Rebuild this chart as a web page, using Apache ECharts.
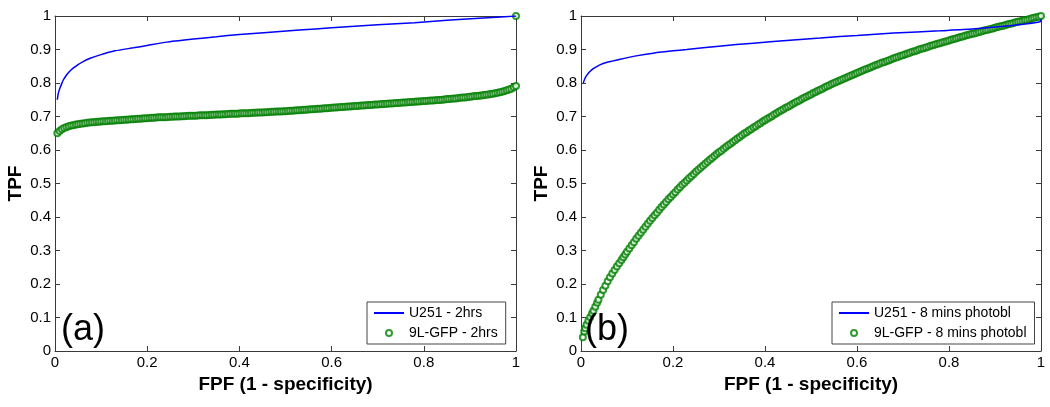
<!DOCTYPE html>
<html>
<head>
<meta charset="utf-8">
<script src="https://cdn.jsdelivr.net/npm/echarts@6/dist/echarts.min.js"></script>
<style>
html,body{margin:0;padding:0;background:#fff;}
#chart{width:1050px;height:407px;}
</style>
</head>
<body>
<div id="chart"></div>
<script>
// ---------- Panel (a) ----------
const fpfA_U251 = [0.005,0.007,0.009,0.011,0.014,0.018,0.025,0.032,0.040,0.050,0.061,0.075,0.098,0.13,0.17,0.20,0.242,0.30,0.35,0.40,0.46,0.53,0.60,0.70,0.78,0.85,0.92,1.00];
const tpfA_U251 = [0.750,0.768,0.778,0.786,0.796,0.809,0.824,0.835,0.845,0.855,0.864,0.873,0.884,0.896,0.905,0.912,0.922,0.931,0.938,0.945,0.951,0.958,0.965,0.974,0.980,0.987,0.993,1.000];

const fpfA_9L = [0.005,0.010,0.015,0.020,0.025,0.030,0.035,0.040,0.045,0.050,0.055,0.060,0.065,0.070,0.075,0.080,0.085,0.090,0.095,0.100,
0.105,0.110,0.115,0.120,0.125,0.130,0.135,0.140,0.145,0.150,0.155,0.160,0.165,0.170,0.175,0.180,0.185,0.190,0.195,0.200,
0.205,0.210,0.215,0.220,0.225,0.230,0.235,0.240,0.245,0.250,0.255,0.260,0.265,0.270,0.275,0.280,0.285,0.290,0.295,0.300,
0.305,0.310,0.315,0.320,0.325,0.330,0.335,0.340,0.345,0.350,0.355,0.360,0.365,0.370,0.375,0.380,0.385,0.390,0.395,0.400,
0.405,0.410,0.415,0.420,0.425,0.430,0.435,0.440,0.445,0.450,0.455,0.460,0.465,0.470,0.475,0.480,0.485,0.490,0.495,0.500,
0.505,0.510,0.515,0.520,0.525,0.530,0.535,0.540,0.545,0.550,0.555,0.560,0.565,0.570,0.575,0.580,0.585,0.590,0.595,0.600,
0.605,0.610,0.615,0.620,0.625,0.630,0.635,0.640,0.645,0.650,0.655,0.660,0.665,0.670,0.675,0.680,0.685,0.690,0.695,0.700,
0.705,0.710,0.715,0.720,0.725,0.730,0.735,0.740,0.745,0.750,0.755,0.760,0.765,0.770,0.775,0.780,0.785,0.790,0.795,0.800,
0.805,0.810,0.815,0.820,0.825,0.830,0.835,0.840,0.845,0.850,0.855,0.860,0.865,0.870,0.875,0.880,0.885,0.890,0.895,0.900,
0.905,0.910,0.915,0.920,0.925,0.930,0.935,0.940,0.945,0.950,0.955,0.960,0.965,0.970,0.975,0.980,0.985,0.990,0.995,1.000,1.000];
const tpfA_9L = [0.650,0.657,0.662,0.666,0.669,0.671,0.673,0.674,0.676,0.677,0.678,0.679,0.680,0.681,0.682,0.683,0.683,0.684,0.684,0.685,
0.6855,0.686,0.6865,0.687,0.6875,0.688,0.6885,0.689,0.6895,0.690,0.6905,0.691,0.6915,0.692,0.6925,0.693,0.6935,0.694,0.6945,0.695,
0.6955,0.696,0.6965,0.697,0.6975,0.698,0.698,0.698,0.6985,0.699,0.6995,0.700,0.700,0.700,0.7005,0.701,0.7015,0.702,0.702,0.702,
0.7025,0.703,0.7035,0.704,0.704,0.704,0.7045,0.705,0.7055,0.706,0.706,0.706,0.7065,0.707,0.7075,0.708,0.708,0.708,0.7085,0.709,
0.7095,0.710,0.710,0.710,0.7105,0.711,0.7115,0.712,0.712,0.712,0.7125,0.713,0.7135,0.714,0.7145,0.715,0.715,0.715,0.7155,0.716,
0.7165,0.717,0.7175,0.718,0.7185,0.719,0.7195,0.720,0.7205,0.721,0.7215,0.722,0.7225,0.723,0.7235,0.724,0.7245,0.725,0.7255,0.726,
0.7265,0.727,0.7275,0.728,0.7285,0.729,0.7295,0.730,0.7305,0.731,0.7315,0.732,0.7325,0.733,0.7335,0.734,0.7345,0.735,0.7355,0.736,
0.7365,0.737,0.7375,0.738,0.7385,0.739,0.7395,0.740,0.7405,0.741,0.7415,0.742,0.7425,0.743,0.7435,0.744,0.7445,0.745,0.7455,0.746,
0.7465,0.747,0.7475,0.748,0.7485,0.749,0.7495,0.750,0.751,0.752,0.7525,0.753,0.7535,0.754,0.755,0.756,0.7565,0.757,0.758,0.759,
0.760,0.761,0.7615,0.762,0.763,0.764,0.765,0.766,0.767,0.768,0.7695,0.771,0.7725,0.774,0.776,0.778,0.7805,0.783,0.787,0.791,1.000];

// ---------- Panel (b) ----------
const fpfB_U251 = [0.005,0.008,0.012,0.016,0.020,0.026,0.033,0.041,0.055,0.070,0.085,0.12,0.157,0.20,0.23,0.30,0.375,0.447,0.52,0.563,0.60,0.68,0.78,0.85,0.925,0.998,1.000];
const tpfB_U251 = [0.800,0.812,0.822,0.829,0.835,0.842,0.848,0.854,0.861,0.866,0.871,0.881,0.889,0.896,0.900,0.910,0.919,0.927,0.934,0.939,0.942,0.949,0.956,0.961,0.970,0.983,0.990];

const fpfB_9L = [0.004,0.007,0.009,0.012,0.016,0.020,0.024,0.027,0.031,0.035,0.038,0.043,0.048,0.053,0.058,0.063,0.068,0.073,0.078,0.083,0.088,0.092,0.096,
0.100,0.105,0.110,0.115,0.120,0.125,0.130,0.135,0.140,0.145,0.150,0.155,0.160,0.165,0.170,0.175,0.180,0.185,0.190,0.195,0.200,
0.205,0.210,0.215,0.220,0.225,0.230,0.235,0.240,0.245,0.250,0.255,0.260,0.265,0.270,0.275,0.280,0.285,0.290,0.295,0.300,
0.305,0.310,0.315,0.320,0.325,0.330,0.335,0.340,0.345,0.350,0.355,0.360,0.365,0.370,0.375,0.380,0.385,0.390,0.395,0.400,
0.405,0.410,0.415,0.420,0.425,0.430,0.435,0.440,0.445,0.450,0.455,0.460,0.465,0.470,0.475,0.480,0.485,0.490,0.495,0.500,
0.505,0.510,0.515,0.520,0.525,0.530,0.535,0.540,0.545,0.550,0.555,0.560,0.565,0.570,0.575,0.580,0.585,0.590,0.595,0.600,
0.605,0.610,0.615,0.620,0.625,0.630,0.635,0.640,0.645,0.650,0.655,0.660,0.665,0.670,0.675,0.680,0.685,0.690,0.695,0.700,
0.705,0.710,0.715,0.720,0.725,0.730,0.735,0.740,0.745,0.750,0.755,0.760,0.765,0.770,0.775,0.780,0.785,0.790,0.795,0.800,
0.805,0.810,0.815,0.820,0.825,0.830,0.835,0.840,0.845,0.850,0.855,0.860,0.865,0.870,0.875,0.880,0.885,0.890,0.895,0.900,
0.905,0.910,0.915,0.920,0.925,0.930,0.935,0.940,0.945,0.950,0.955,0.960,0.965,0.970,0.975,0.980,0.985,0.990,0.995,1.000];
const tpfB_9L = [0.041,0.058,0.068,0.078,0.090,0.101,0.112,0.120,0.132,0.144,0.153,0.168,0.182,0.195,0.208,0.220,0.231,0.242,0.252,0.262,0.272,0.280,0.288,
0.296,0.306,0.316,0.325,0.335,0.344,0.353,0.362,0.371,0.380,0.389,0.397,0.405,0.413,0.422,0.430,0.437,0.445,0.453,0.460,0.467,
0.474,0.482,0.489,0.496,0.502,0.509,0.516,0.522,0.528,0.535,0.541,0.547,0.553,0.559,0.565,0.571,0.576,0.582,0.588,0.593,
0.598,0.604,0.609,0.614,0.619,0.624,0.629,0.634,0.639,0.644,0.649,0.653,0.658,0.662,0.667,0.671,0.676,0.680,0.685,0.689,
0.693,0.697,0.701,0.706,0.710,0.714,0.718,0.722,0.726,0.729,0.733,0.737,0.741,0.745,0.748,0.752,0.756,0.759,0.763,0.766,
0.770,0.773,0.777,0.780,0.783,0.787,0.790,0.793,0.797,0.800,0.803,0.806,0.809,0.812,0.815,0.818,0.821,0.824,0.827,0.830,
0.833,0.836,0.839,0.842,0.844,0.847,0.850,0.853,0.855,0.858,0.861,0.863,0.866,0.868,0.871,0.874,0.876,0.878,0.881,0.883,
0.886,0.888,0.890,0.893,0.895,0.897,0.900,0.902,0.904,0.906,0.908,0.911,0.913,0.915,0.917,0.919,0.921,0.923,0.925,0.927,
0.929,0.931,0.933,0.935,0.937,0.939,0.941,0.943,0.945,0.947,0.948,0.950,0.952,0.954,0.956,0.958,0.959,0.961,0.963,0.965,
0.967,0.969,0.970,0.972,0.974,0.976,0.977,0.979,0.981,0.983,0.984,0.986,0.988,0.989,0.991,0.993,0.995,0.996,0.998,1.000];

const xTicks = [0,0.2,0.4,0.6,0.8,1];
const yTicks = [0,0.1,0.2,0.3,0.4,0.5,0.6,0.7,0.8,0.9,1];

const seriesNames = ['U251 - 2hrs','9L-GFP - 2hrs','U251 - 8 mins photobl','9L-GFP - 8 mins photobl'];
const panelLabels = ['(a)','(b)'];

function zip(a,b){ return a.map((v,i)=>[v,b[i]]); }

const FONT = 'Liberation Sans, Arial, sans-serif';
const AX = '#3a3a3a';

function xAxisDef(grid, top){
  return {
    type:'value', gridIndex:grid, min:0, max:1, interval:0.2,
    position: top ? 'top' : 'bottom',
    name: top ? '' : 'FPF (1 - specificity)',
    nameLocation:'middle', nameGap:22,
    nameTextStyle:{fontFamily:FONT,fontSize:19,fontWeight:'bold',color:'#000'},
    axisLine:{show:true,onZero:false,lineStyle:{color:AX,width:1}},
    axisTick:{show:true,inside:true,length:5,lineStyle:{color:AX}},
    axisLabel:{show:!top,fontFamily:FONT,fontSize:15,color:'#000',margin:4,
      formatter:v=>String(xTicks.find(t=>Math.abs(t-v)<1e-9) ?? v)},
    splitLine:{show:false}
  };
}
function yAxisDef(grid, right){
  return {
    type:'value', gridIndex:grid, min:0, max:1, interval:0.1,
    position: right ? 'right' : 'left',
    name: right ? '' : 'TPF',
    nameLocation:'middle', nameGap:30,
    nameTextStyle:{fontFamily:FONT,fontSize:19,fontWeight:'bold',color:'#000'},
    axisLine:{show:true,onZero:false,lineStyle:{color:AX,width:1}},
    axisTick:{show:true,inside:true,length:5,lineStyle:{color:AX}},
    axisLabel:{show:!right,fontFamily:FONT,fontSize:15,color:'#000',margin:4,
      formatter:v=>String(yTicks.find(t=>Math.abs(t-v)<1e-9) ?? v)},
    splitLine:{show:false}
  };
}

function lineSeries(name, xi, yi, data){
  return {name, type:'line', xAxisIndex:xi, yAxisIndex:yi, data, symbol:'none',
    showSymbol:false, smooth:0.2, lineStyle:{color:'#0000ff',width:1.5}, itemStyle:{color:'#0000ff'},
    animation:false, z:3};
}
function scatterSeries(name, xi, yi, data){
  return {name, type:'scatter', xAxisIndex:xi, yAxisIndex:yi, data, symbol:'emptyCircle',
    symbolSize:6, clip:false, large:false,
    itemStyle:{color:'#008000', borderColor:'#008000', borderWidth:1.6},
    animation:false, z:2};
}

function legendDef(left, names){
  return {
    left, top:302, orient:'vertical',
    data:[{name:names[0], itemStyle:{opacity:0}}, {name:names[1]}],
    itemWidth:30, itemHeight:6, itemGap:4,
    padding:[3,8,3,6],
    backgroundColor:'#fff', borderColor:'#444', borderWidth:1, borderRadius:0,
    textStyle:{fontFamily:FONT,fontSize:14,color:'#000',lineHeight:16},
    selectedMode:false
  };
}

const chart = echarts.init(document.getElementById('chart'), null, {renderer:'canvas'});
chart.setOption({
  backgroundColor:'#fff',
  animation:false,
  grid:[
    {left:55, right:534, top:16, bottom:56, containLabel:false},
    {left:581, right:9, top:16, bottom:56, containLabel:false}
  ],
  xAxis:[xAxisDef(0,false), xAxisDef(0,true), xAxisDef(1,false), xAxisDef(1,true)],
  yAxis:[yAxisDef(0,false), yAxisDef(0,true), yAxisDef(1,false), yAxisDef(1,true)],
  legend:[legendDef(367,[seriesNames[0],seriesNames[1]]), legendDef(832,[seriesNames[2],seriesNames[3]])],
  series:[
    lineSeries(seriesNames[0],0,0,zip(fpfA_U251,tpfA_U251)),
    scatterSeries(seriesNames[1],0,0,zip(fpfA_9L,tpfA_9L)),
    lineSeries(seriesNames[2],2,2,zip(fpfB_U251,tpfB_U251)),
    scatterSeries(seriesNames[3],2,2,zip(fpfB_9L,tpfB_9L))
  ],
  graphic:[
    {type:'text', left:61, top:312, z:10, style:{text:panelLabels[0], font:'36px '+FONT, fill:'#000'}},
    {type:'text', left:585, top:312, z:10, style:{text:panelLabels[1], font:'36px '+FONT, fill:'#000'}}
  ]
});
</script>
</body>
</html>
